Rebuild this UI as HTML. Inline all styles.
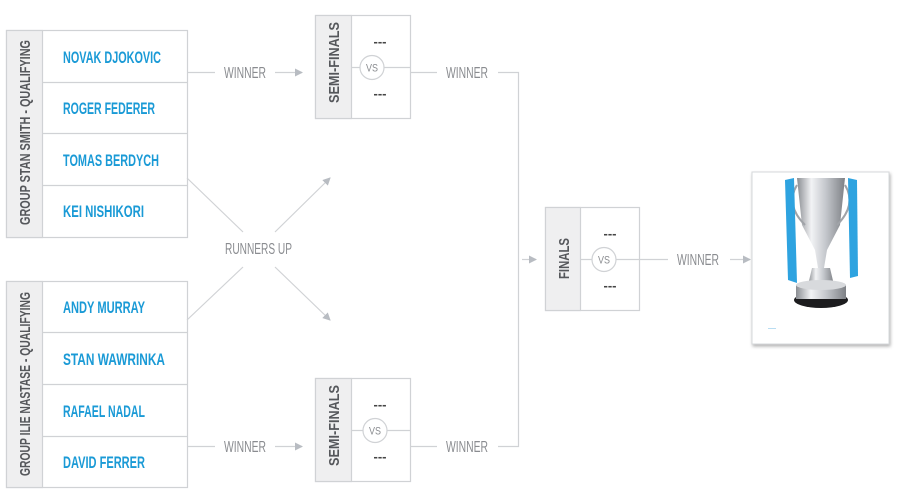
<!DOCTYPE html>
<html><head><meta charset="utf-8"><style>
html,body{margin:0;padding:0;background:#fff;width:900px;height:493px;overflow:hidden}
svg{display:block}
.n{font-family:"Liberation Sans",sans-serif;font-weight:bold;font-size:17px;fill:#1a9ad6}
.g{font-family:"Liberation Sans",sans-serif;font-size:16px;fill:#8a8c90}
.l{font-family:"Liberation Sans",sans-serif;font-weight:bold;font-size:15px;fill:#55575b}
.d{font-family:"Liberation Sans",sans-serif;font-weight:bold;font-size:13px;fill:#444}
</style></head><body>
<svg width="900" height="493" viewBox="0 0 900 493" xmlns="http://www.w3.org/2000/svg">
<defs>
<marker id="a" markerWidth="8" markerHeight="8" refX="7" refY="4" orient="auto" markerUnits="userSpaceOnUse"><path d="M0,0 L8,4 L0,8 Z" fill="#b8bcc2"/></marker>
<linearGradient id="s" x1="0" x2="1"><stop offset="0" stop-color="#8a8d92"/><stop offset=".3" stop-color="#f2f3f5"/><stop offset=".6" stop-color="#c4c7cc"/><stop offset="1" stop-color="#7e8186"/></linearGradient>
<filter id="sh" x="-10%" y="-10%" width="125%" height="125%"><feDropShadow dx="1" dy="2" stdDeviation="1.5" flood-color="#000" flood-opacity=".3"/></filter>
</defs>
<g stroke="#d0d2d5" fill="none" stroke-width="1.2">
<rect x="6.5" y="30.5" width="181" height="207" fill="#fff"/>
<rect x="6.5" y="30.5" width="36" height="207" fill="#efeff0"/>
<line x1="42" y1="82.5" x2="187" y2="82.5"/><line x1="42" y1="133.5" x2="187" y2="133.5"/><line x1="42" y1="185.5" x2="187" y2="185.5"/>
<rect x="6.5" y="281.5" width="181" height="206" fill="#fff"/>
<rect x="6.5" y="281.5" width="36" height="206" fill="#efeff0"/>
<line x1="42" y1="332.5" x2="187" y2="332.5"/><line x1="42" y1="384.5" x2="187" y2="384.5"/><line x1="42" y1="436.5" x2="187" y2="436.5"/>
<rect x="315.5" y="15.5" width="95" height="103" fill="#fff"/>
<rect x="315.5" y="15.5" width="36" height="103" fill="#efeff0"/>
<line x1="351" y1="67.5" x2="410" y2="67.5"/>
<circle cx="372" cy="67.5" r="12" fill="#fff"/>
<rect x="315.5" y="378.5" width="95" height="103" fill="#fff"/>
<rect x="315.5" y="378.5" width="36" height="103" fill="#efeff0"/>
<line x1="351" y1="430.5" x2="410" y2="430.5"/>
<circle cx="375" cy="430.5" r="12" fill="#fff"/>
<rect x="545.5" y="207.5" width="94" height="103" fill="#fff"/>
<rect x="545.5" y="207.5" width="35" height="103" fill="#efeff0"/>
<line x1="580" y1="259.5" x2="639" y2="259.5"/>
<circle cx="604" cy="259.5" r="12" fill="#fff"/>
<line x1="187" y1="72.5" x2="215" y2="72.5"/>
<line x1="275" y1="72.5" x2="302" y2="72.5" marker-end="url(#a)"/>
<line x1="410" y1="72.5" x2="437" y2="72.5"/>
<polyline points="498,72.5 518.5,72.5 518.5,446.5 498,446.5"/>
<line x1="522" y1="259.5" x2="536" y2="259.5" marker-end="url(#a)"/>
<line x1="187" y1="446.5" x2="215" y2="446.5"/>
<line x1="275" y1="446.5" x2="302" y2="446.5" marker-end="url(#a)"/>
<line x1="410" y1="446.5" x2="437" y2="446.5"/>
<line x1="639" y1="259.5" x2="668" y2="259.5"/>
<line x1="730" y1="259.5" x2="750" y2="259.5" marker-end="url(#a)"/>
<line x1="187" y1="178" x2="243" y2="232"/>
<line x1="275" y1="232" x2="330" y2="178" marker-end="url(#a)"/>
<line x1="187" y1="320" x2="243" y2="267"/>
<line x1="275" y1="267" x2="330" y2="320" marker-end="url(#a)"/>
</g>
<text class="l" transform="translate(30,225) rotate(-90)" textLength="185" lengthAdjust="spacingAndGlyphs">GROUP STAN SMITH - QUALIFYING</text>
<text class="l" transform="translate(30,476) rotate(-90)" textLength="184" lengthAdjust="spacingAndGlyphs">GROUP ILIE NASTASE - QUALIFYING</text>
<text class="l" transform="translate(339,103) rotate(-90)" textLength="81" lengthAdjust="spacingAndGlyphs">SEMI-FINALS</text>
<text class="l" transform="translate(339,466) rotate(-90)" textLength="81" lengthAdjust="spacingAndGlyphs">SEMI-FINALS</text>
<text class="l" transform="translate(569,279) rotate(-90)" textLength="41" lengthAdjust="spacingAndGlyphs">FINALS</text>
<g class="n">
<text x="63" y="63" textLength="98" lengthAdjust="spacingAndGlyphs">NOVAK DJOKOVIC</text>
<text x="63" y="114" textLength="92" lengthAdjust="spacingAndGlyphs">ROGER FEDERER</text>
<text x="63" y="166" textLength="96" lengthAdjust="spacingAndGlyphs">TOMAS BERDYCH</text>
<text x="63" y="217" textLength="81" lengthAdjust="spacingAndGlyphs">KEI NISHIKORI</text>
<text x="63" y="313" textLength="82" lengthAdjust="spacingAndGlyphs">ANDY MURRAY</text>
<text x="63" y="365" textLength="102" lengthAdjust="spacingAndGlyphs">STAN WAWRINKA</text>
<text x="63" y="417" textLength="82" lengthAdjust="spacingAndGlyphs">RAFAEL NADAL</text>
<text x="63" y="468" textLength="82" lengthAdjust="spacingAndGlyphs">DAVID FERRER</text>
</g>
<g class="g">
<text x="224" y="78" textLength="42" lengthAdjust="spacingAndGlyphs">WINNER</text>
<text x="446" y="78" textLength="42" lengthAdjust="spacingAndGlyphs">WINNER</text>
<text x="224" y="452" textLength="42" lengthAdjust="spacingAndGlyphs">WINNER</text>
<text x="446" y="452" textLength="42" lengthAdjust="spacingAndGlyphs">WINNER</text>
<text x="677" y="265" textLength="42" lengthAdjust="spacingAndGlyphs">WINNER</text>
<text x="225" y="254" textLength="67" lengthAdjust="spacingAndGlyphs">RUNNERS UP</text>
</g>
<g font-family="Liberation Sans,sans-serif" font-size="11" fill="#8a8c90">
<text x="366" y="71.5" textLength="12" lengthAdjust="spacingAndGlyphs">VS</text>
<text x="369" y="434.5" textLength="12" lengthAdjust="spacingAndGlyphs">VS</text>
<text x="598" y="263.5" textLength="12" lengthAdjust="spacingAndGlyphs">VS</text>
</g>
<g class="d" text-anchor="middle">
<text x="380" y="46">---</text><text x="380" y="98">---</text>
<text x="380" y="409">---</text><text x="380" y="461">---</text>
<text x="610" y="238">---</text><text x="610" y="290">---</text>
</g>
<rect x="752" y="172" width="137" height="172" fill="#fff" stroke="#d6d8db" filter="url(#sh)"/>
<path d="M797,178 L845,178 L840,225 L827,250 L824,268 L818,268 L815,250 L802,225 Z" fill="url(#s)"/>
<path d="M797,185 Q785,205 805,225 M845,185 Q857,205 837,225" stroke="#a0a3a8" stroke-width="2" fill="none"/>
<path d="M812,268 L830,268 L834,285 L808,285 Z" fill="url(#s)"/>
<ellipse cx="821" cy="300" rx="27" ry="8" fill="#1c1c1e"/>
<rect x="796" y="285" width="50" height="14" fill="url(#s)"/>
<ellipse cx="821" cy="285" rx="25" ry="5" fill="#d8dadd"/>
<path d="M785,180 L794,178 L797,283 L788,280 Z" fill="#2ea3e0"/>
<path d="M848,178 L857,180 L858,276 L850,278 Z" fill="#2ea3e0"/>
<text x="768" y="330" font-family="Liberation Sans,sans-serif" font-size="6" fill="#4aa7dc">----</text>
</svg>
</body></html>
